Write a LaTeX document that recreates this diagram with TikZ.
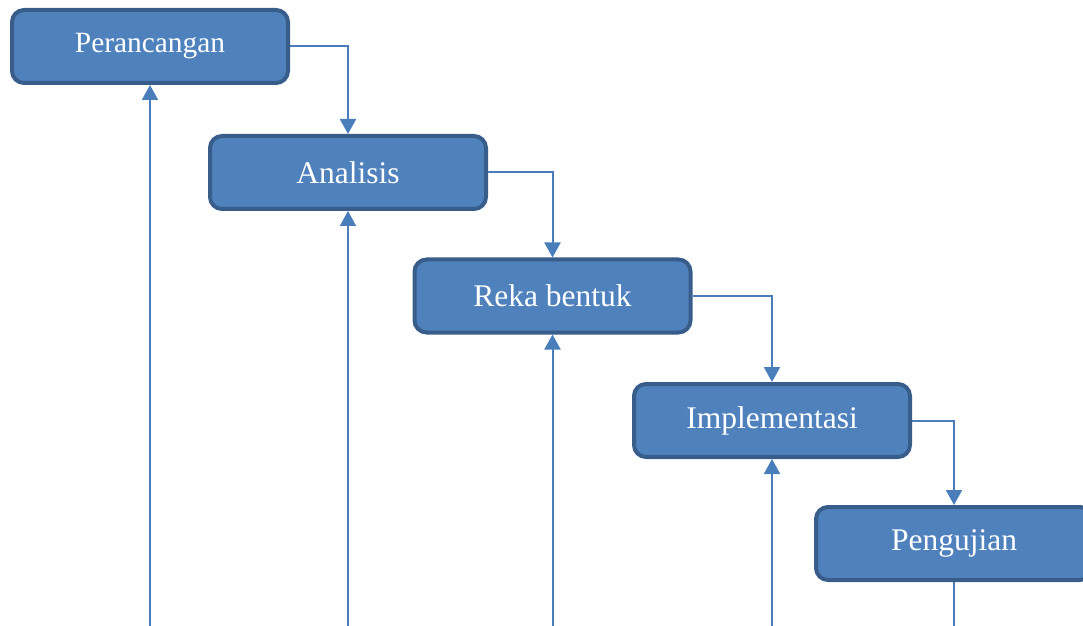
\documentclass[tikz,border=0pt]{standalone}
\usepackage{fontspec}
\setmainfont{Liberation Serif}
\usetikzlibrary{arrows.meta}
\definecolor{boxfill}{HTML}{4F81BD}
\definecolor{boxline}{HTML}{385D8A}
\definecolor{linkline}{HTML}{4A7EBB}

\begin{document}
\begin{tikzpicture}[x=0.5pt,y=-0.5pt,>={Triangle[length=7.5pt,width=8pt]},
  phase/.style={rectangle,rounded corners=6pt,draw=boxline,fill=boxfill,line width=2pt,
    minimum width=138pt,minimum height=36.5pt,inner sep=0pt,text=white,
    font=\fontsize{15.75}{18}\selectfont},
  link/.style={draw=linkline,line width=1pt}]
  \useasboundingbox (0,0) rectangle (1083,626);
  \clip (0,0) rectangle (1083,626);

  \node[phase,font=\fontsize{14.7}{17}\selectfont] (rancang) at (150,46.5) {Perancangan};
  \node[phase] (analisis) at (348,172.5) {Analisis};
  \node[phase] (reka)     at (552.5,296) {Reka bentuk};
  \node[phase] (impl)     at (772,420.5) {Implementasi};
  \node[phase] (uji)      at (954,543.5) {Pengujian};

  \coordinate (b1) at (150,660);
  \coordinate (b2) at (348,660);
  \coordinate (b3) at (552.5,660);
  \coordinate (b4) at (772,660);
  \coordinate (b5) at (954,660);

  \draw[link,->] (rancang.east) -| (analisis.north);
  \draw[link,->] (analisis.east) -| (reka.north);
  \draw[link,->] (reka.east) -| (impl.north);
  \draw[link,->] (impl.east) -| (uji.north);

  \draw[link,->] (b1) -- (rancang.south);
  \draw[link,->] (b2) -- (analisis.south);
  \draw[link,->] (b3) -- (reka.south);
  \draw[link,->] (b4) -- (impl.south);
  \draw[link] (uji.south) -- (b5);
\end{tikzpicture}
\end{document}
